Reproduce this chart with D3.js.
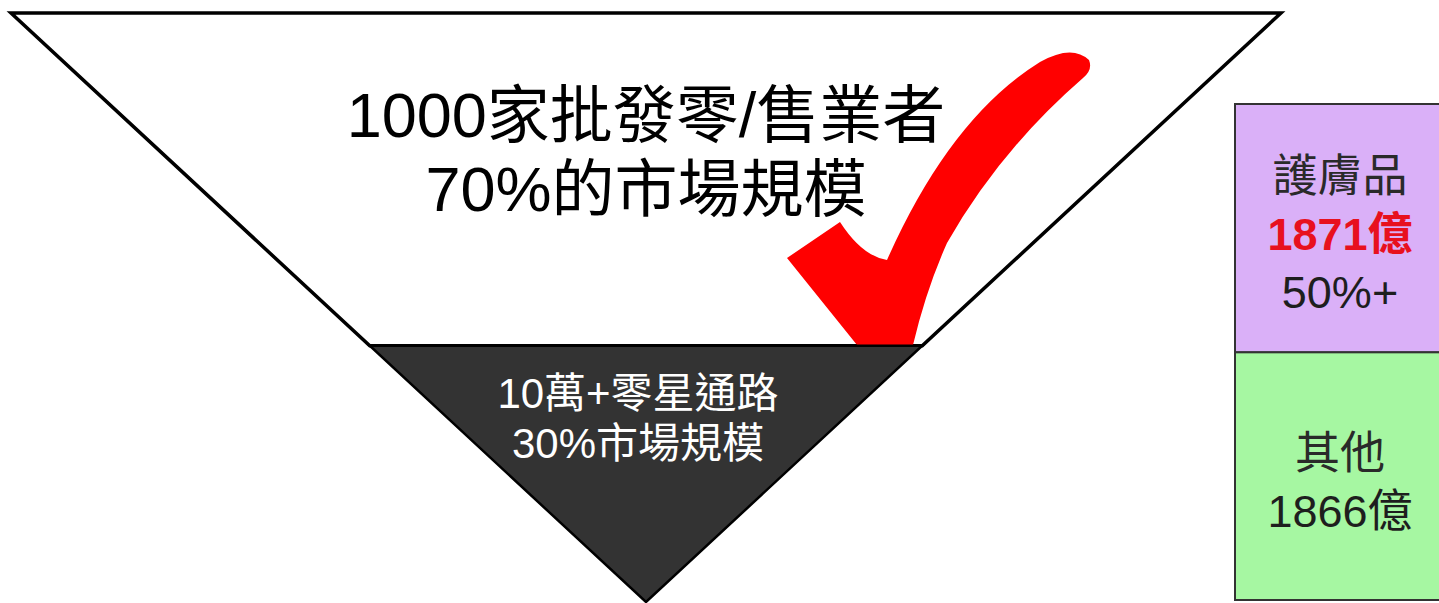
<!DOCTYPE html>
<html>
<head>
<meta charset="utf-8">
<script src="https://cdn.jsdelivr.net/npm/d3@7"></script>
<style>
  html, body { margin: 0; padding: 0; background: #fff; overflow: hidden; }
  svg { display: block; }
  text { font-family: "Liberation Sans", Arial, "Noto Sans CJK TC", sans-serif; }
</style>
</head>
<body>
<div id="chart"></div>
<script>
// funnel data
const funnelLine1 = ["1000家批發零/售業者", "10萬+零星通路"];
const funnelLine2 = ["70%的市場規模", "30%市場規模"];
const funnelShares = [70, 30];

// stacked bar data
const barCategories = ["護膚品", "其他"];
const barValues = [1871, 1866];
const barValueLabels = ["1871億", "1866億"];
const barNotes = ["50%+", ""];

const width = 1439, height = 603;

const svg = d3.select("#chart").append("svg")
    .attr("width", width)
    .attr("height", height);

// funnel geometry
const cx = 646;
const depth = d3.scaleLinear().domain([0, 1]).range([13, 602]);
const halfW = d3.scaleLinear().domain([0, 1]).range([635, 0]);
const splitDepth = 0.565; // where the lower band starts

const tri = (d0, d1) => {
    const y0 = depth(d0), y1 = depth(d1);
    const pts = [
        [cx - halfW(d0), y0], [cx + halfW(d0), y0],
        [cx + halfW(d1), y1], [cx - halfW(d1), y1]
    ];
    return d3.line()(pts) + "Z";
};

const funnel = svg.append("g");

// upper band (white)
funnel.append("path")
    .attr("d", tri(0, splitDepth))
    .attr("fill", "#fff")
    .attr("stroke", "#000")
    .attr("stroke-width", 3.5)
    .attr("stroke-linejoin", "miter");

// red check mark
funnel.append("path")
    .attr("d", "M787,258 L840,222 Q862,256 887,260 Q950,118 1040,62 Q1072,44 1089,60 Q1093,70 1083,78 Q1000,150 947,243 Q926,290 913,345 L857,345 Z")
    .attr("fill", "#ff0000");

// lower band (dark)
funnel.append("path")
    .attr("d", tri(splitDepth, 1))
    .attr("fill", "#333333")
    .attr("stroke", "#000")
    .attr("stroke-width", 2.5);

// funnel labels
const labelCfg = [
    { x: 646, y1: 137, y2: 211, size: 63, color: "#000" },
    { x: 638, y1: 408, y2: 458, size: 42, color: "#fff" }
];
funnelLine1.forEach((t, i) => {
    const c = labelCfg[i];
    const g = funnel.append("g").attr("fill", c.color)
        .attr("font-size", c.size + "px")
        .attr("text-anchor", "middle");
    g.append("text").attr("x", c.x).attr("y", c.y1).text(t);
    g.append("text").attr("x", c.x).attr("y", c.y2).text(funnelLine2[i]);
});

// stacked bar on the right
const total = d3.sum(barValues);
const yBar = d3.scaleLinear().domain([0, total]).range([600, 104]);
const barX = 1235, barW = 220;

let acc = 0;
const stack = barValues.map((v, i) => {
    const d = { cat: barCategories[i], lo: total - acc - v, hi: total - acc, i: i };
    acc += v;
    return d;
});
const barColors = ["#dab0f8", "#a6f7a2"];

const bars = svg.append("g");
bars.selectAll("rect")
    .data(stack)
    .enter()
    .append("rect")
    .attr("x", barX)
    .attr("y", d => yBar(d.hi))
    .attr("width", barW)
    .attr("height", d => yBar(d.lo) - yBar(d.hi))
    .attr("fill", (d, i) => barColors[i])
    .attr("stroke", "#333")
    .attr("stroke-width", 2);

// bar labels
const fs = 45;
stack.forEach((d, i) => {
    const top = yBar(d.hi), bot = yBar(d.lo);
    const mid = (top + bot) / 2;
    const lines = [
        { t: d.cat, color: "#2a2a2a", weight: "normal" },
        { t: barValueLabels[i], color: i === 0 ? "#e8101e" : "#1e1e1e", weight: i === 0 ? "bold" : "normal" }
    ];
    if (barNotes[i]) lines.push({ t: barNotes[i], color: "#1e1e1e", weight: "normal" });
    const step = 58;
    const startY = mid - (lines.length - 1) * step / 2 + 21.5;
    lines.forEach((l, k) => {
        bars.append("text")
            .attr("x", 1340)
            .attr("y", startY + k * step)
            .attr("text-anchor", "middle")
            .attr("font-size", fs + "px")
            .attr("font-weight", l.weight)
            .attr("fill", l.color)
            .text(l.t);
    });
});
</script>
</body>
</html>
